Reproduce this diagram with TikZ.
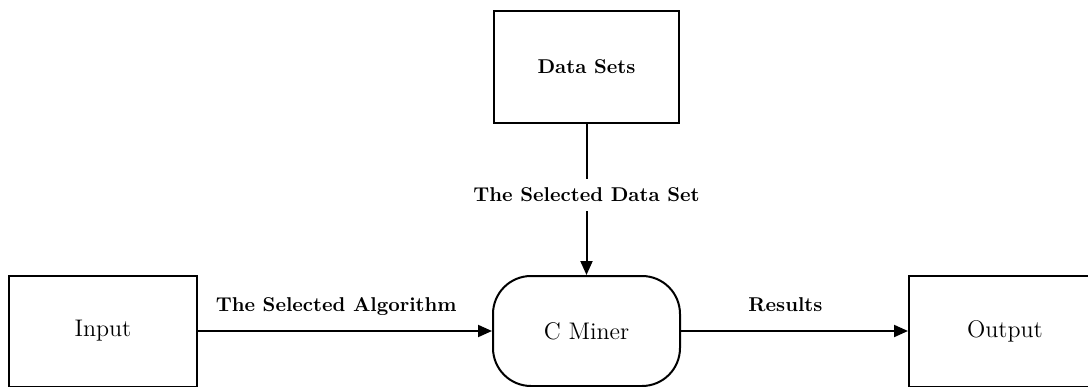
\documentclass[tikz,border=0pt]{standalone}
\usetikzlibrary{arrows.meta}
\begin{document}
\begin{tikzpicture}[x=0.5pt,y=-0.5pt,
  box/.style={draw, line width=1pt, minimum width=93pt, minimum height=55.5pt, inner sep=0pt, font=\fontsize{12}{14}\selectfont},
  rbox/.style={box, rounded corners=19pt},
  arr/.style={line width=1pt, -{Triangle[length=7pt,width=6pt]}},
  lbl/.style={font=\fontsize{10}{12}\selectfont\bfseries, anchor=base, yshift=10pt},
  vlbl/.style={font=\fontsize{10}{12}\selectfont\bfseries, fill=white, inner xsep=2pt, inner ysep=4.5pt}]
\useasboundingbox (0,0) rectangle (1088,386);
\node[box, minimum width=92.5pt, minimum height=56pt, font=\fontsize{10}{12}\selectfont\bfseries] (ds) at (586.5,67) {Data Sets};
\node[rbox, minimum width=93.5pt, minimum height=55pt] (cm) at (586.5,331) {C Miner};
\node[box, minimum width=94pt] (in) at (103,331) {Input};
\node[box, minimum width=96pt] (out) at (1005,331) {Output};
\draw[arr] (ds) -- node[vlbl, pos=0.47] {The Selected Data Set} (cm);
\draw[arr] (in) -- node[lbl, pos=0.47] {The Selected Algorithm} (cm);
\draw[arr] (cm) -- node[lbl, pos=0.46] {Results} (out);
\end{tikzpicture}
\end{document}
